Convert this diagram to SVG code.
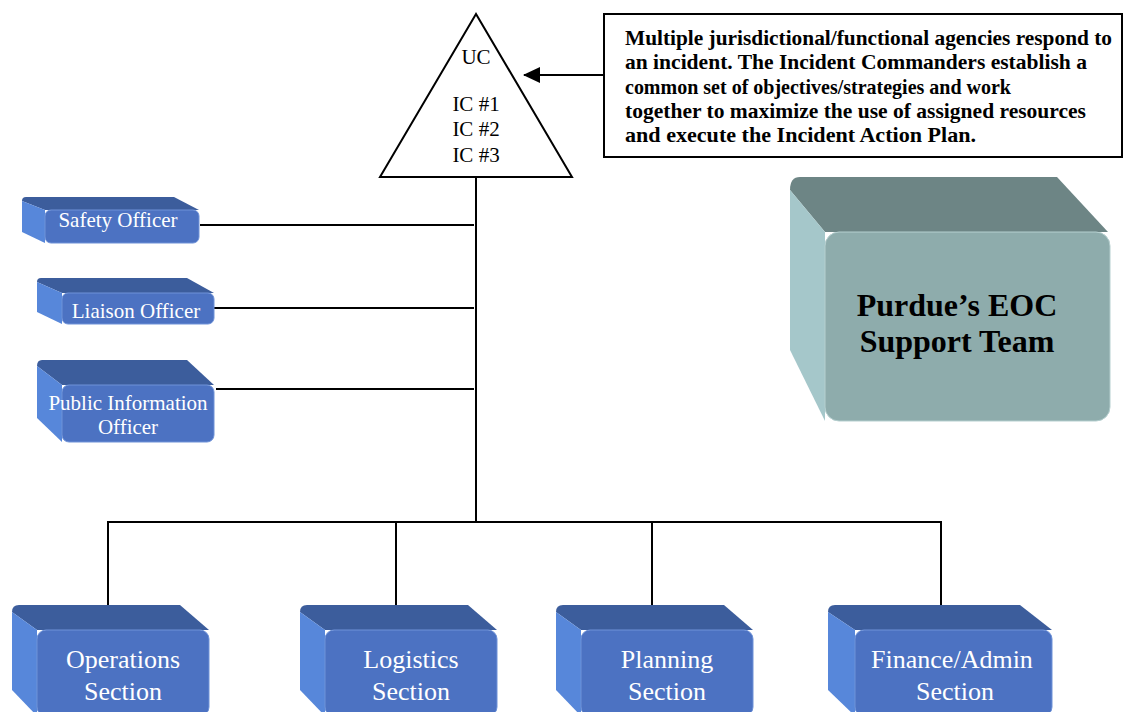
<svg xmlns="http://www.w3.org/2000/svg" width="1124" height="712" viewBox="0 0 1124 712">
<style>
.ln{stroke:#000;stroke-width:2;fill:none}
.bt{fill:#3C5D9C}
.bl{fill:#5787DA}
.bf{fill:#4C72C2;stroke:#6E92D8;stroke-width:1}
.gt{fill:#6D8585}
.gl{fill:#A5C7CA}
.gf{fill:#8EACAC;stroke:#B5CFCF;stroke-width:1}
.wt{font-family:"Liberation Serif","Times New Roman",serif;fill:#fff;text-anchor:middle}
.bk{font-family:"Liberation Serif","Times New Roman",serif;fill:#000}
</style>
<defs>
<marker id="ah" markerWidth="18" markerHeight="16" refX="16" refY="8" orient="auto" markerUnits="userSpaceOnUse">
<path d="M0,0 L17,8 L0,16 Z" fill="#000"/>
</marker>
</defs>
<rect width="1124" height="712" fill="#fff"/>

<g id="connectors">
<line class="ln" x1="476" y1="177" x2="476" y2="522"/>
<line class="ln" x1="200" y1="225" x2="474" y2="225"/>
<line class="ln" x1="214" y1="308" x2="474" y2="308"/>
<line class="ln" x1="216" y1="389" x2="474" y2="389"/>
<line class="ln" x1="107" y1="522" x2="942" y2="522"/>
<line class="ln" x1="108" y1="522" x2="108" y2="605"/>
<line class="ln" x1="396" y1="522" x2="396" y2="605"/>
<line class="ln" x1="652" y1="522" x2="652" y2="605"/>
<line class="ln" x1="941" y1="522" x2="941" y2="605"/>
<line class="ln" x1="604" y1="75" x2="524" y2="75" marker-end="url(#ah)" stroke-width="3"/>
</g>

<g id="uc">
<polygon points="476,14 380,177 572,177" fill="#fff" stroke="#000" stroke-width="2"/>
<text class="bk" x="476" y="64" font-size="21" text-anchor="middle">UC</text>
<text class="bk" x="476" y="111" font-size="21" text-anchor="middle">IC #1</text>
<text class="bk" x="476" y="136" font-size="21" text-anchor="middle">IC #2</text>
<text class="bk" x="476" y="162" font-size="21" text-anchor="middle">IC #3</text>
</g>

<g id="note">
<rect x="604" y="14" width="518" height="143" fill="#fff" stroke="#000" stroke-width="2"/>
<text class="bk" font-size="21" font-weight="bold">
<tspan x="625" y="45" textLength="487" lengthAdjust="spacingAndGlyphs">Multiple jurisdictional/functional agencies respond to</tspan>
<tspan x="625" y="69" textLength="462" lengthAdjust="spacingAndGlyphs">an incident. The Incident Commanders establish a</tspan>
<tspan x="625" y="94" textLength="386" lengthAdjust="spacingAndGlyphs">common set of objectives/strategies and work</tspan>
<tspan x="625" y="118" textLength="461" lengthAdjust="spacingAndGlyphs">together to maximize the use of assigned resources</tspan>
<tspan x="625" y="142" textLength="351" lengthAdjust="spacingAndGlyphs">and execute the Incident Action Plan.</tspan>
</text>
</g>

<g id="eoc">
<path class="gt" d="M800,177 L1057,177 L1108,232 L825,232 L790,190 Q790,177 800,177 Z"/>
<path class="gl" d="M790,190 L825,232 L825,421 L790,350 Z"/>
<rect class="gf" x="825" y="232" width="285" height="189" rx="14"/>
<text class="bk" x="957" y="316" font-size="32" font-weight="bold" text-anchor="middle">Purdue’s EOC</text>
<text class="bk" x="957" y="352" font-size="32" font-weight="bold" text-anchor="middle">Support Team</text>
</g>

<g id="safety">
<path class="bt" d="M26,197 L174,197 L199,210 L45,210 L22,201 Q22,197 26,197 Z"/>
<path class="bl" d="M22,201 L45,210 L45,243 L22,232 Z"/>
<rect class="bf" x="45" y="210" width="154" height="33" rx="6"/>
<text class="wt" x="118" y="227" font-size="21">Safety Officer</text>
</g>

<g id="liaison">
<path class="bt" d="M41,278 L187,278 L214,293 L62,293 L37,282 Q37,278 41,278 Z"/>
<path class="bl" d="M37,282 L62,293 L62,324 L37,312 Z"/>
<rect class="bf" x="62" y="293" width="152" height="31" rx="6"/>
<text class="wt" x="136" y="318" font-size="21">Liaison Officer</text>
</g>

<g id="pio">
<path class="bt" d="M42,360 L187,360 L214,385 L62,385 L37,366 Q37,360 42,360 Z"/>
<path class="bl" d="M37,366 L62,385 L62,442 L37,418 Z"/>
<rect class="bf" x="62" y="385" width="152" height="57" rx="7"/>
<text class="wt" x="128" y="410" font-size="21">Public Information</text>
<text class="wt" x="128" y="434" font-size="21">Officer</text>
</g>

<g id="operations">
<path class="bt" d="M19,605 L180,605 L209,630 L37,630 L12,612 Q12,605 19,605 Z"/>
<path class="bl" d="M12,612 L37,630 L37,716 L12,690 Z"/>
<rect class="bf" x="37" y="630" width="172" height="86" rx="9"/>
<text class="wt" x="123" y="668" font-size="26">Operations</text>
<text class="wt" x="123" y="700" font-size="26">Section</text>
</g>

<g id="logistics">
<path class="bt" d="M307,605 L468,605 L497,630 L325,630 L300,612 Q300,605 307,605 Z"/>
<path class="bl" d="M300,612 L325,630 L325,716 L300,690 Z"/>
<rect class="bf" x="325" y="630" width="172" height="86" rx="9"/>
<text class="wt" x="411" y="668" font-size="26">Logistics</text>
<text class="wt" x="411" y="700" font-size="26">Section</text>
</g>

<g id="planning">
<path class="bt" d="M563,605 L724,605 L753,630 L581,630 L556,612 Q556,605 563,605 Z"/>
<path class="bl" d="M556,612 L581,630 L581,716 L556,690 Z"/>
<rect class="bf" x="581" y="630" width="172" height="86" rx="9"/>
<text class="wt" x="667" y="668" font-size="26">Planning</text>
<text class="wt" x="667" y="700" font-size="26">Section</text>
</g>

<g id="finance">
<path class="bt" d="M835,605 L1020,605 L1052,630 L855,630 L828,612 Q828,605 835,605 Z"/>
<path class="bl" d="M828,612 L855,630 L855,716 L828,690 Z"/>
<rect class="bf" x="855" y="630" width="197" height="86" rx="9"/>
<text class="wt" x="952" y="668" font-size="26">Finance/Admin</text>
<text class="wt" x="955" y="700" font-size="26">Section</text>
</g>
</svg>
